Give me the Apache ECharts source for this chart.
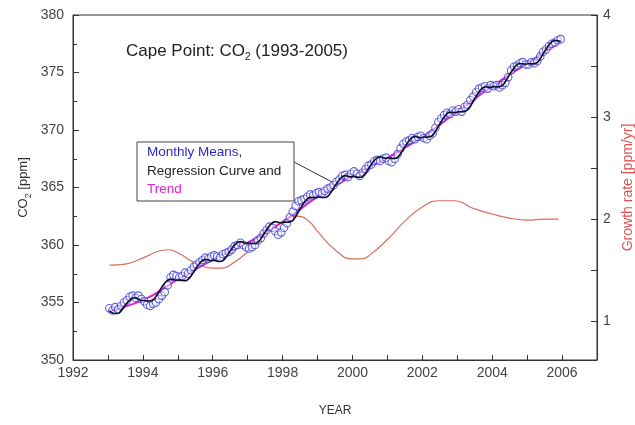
<!DOCTYPE html>
<html>
<head>
<meta charset="utf-8">
<script src="https://cdn.jsdelivr.net/npm/echarts@6/dist/echarts.min.js"></script>
<style>
html,body{margin:0;padding:0;background:#fff;}
#chart{width:635px;height:425px;}
</style>
</head>
<body>
<div id="chart"></div>
<script>
// ---- Data ----
const startYear = 1993;
const monthlyMeans = [
354.5,354.3,354.6,354.4,354.7,355.0,355.2,355.5,355.6,355.4,355.6,355.3,
355.1,354.8,354.7,354.9,355.0,355.3,355.6,355.9,356.5,357.2,357.4,357.3,
357.2,357.3,357.6,357.5,357.8,358.1,358.3,358.5,358.7,358.9,358.8,359.0,
359.1,359.0,358.9,359.2,359.3,359.4,359.6,359.9,360.0,360.2,360.0,359.8,
359.7,359.8,360.0,360.4,360.6,361.0,361.3,361.6,361.5,361.2,360.9,361.1,
361.5,361.9,362.4,362.9,363.4,363.8,363.9,364.0,364.2,364.4,364.3,364.5,
364.6,364.5,364.7,364.9,365.0,365.2,365.5,365.7,366.0,366.1,365.9,366.2,
366.4,366.2,366.0,366.3,366.6,366.9,367.0,367.3,367.4,367.3,367.5,367.6,
367.3,367.2,367.5,367.9,368.4,368.8,369.0,369.1,369.3,369.2,369.4,369.5,
369.3,369.2,369.5,369.7,370.2,370.7,371.0,371.3,371.5,371.4,371.7,371.6,
371.8,371.6,372.0,372.2,372.6,372.9,373.3,373.6,373.7,373.8,373.6,373.9,
373.8,373.9,373.7,373.9,374.1,374.6,375.2,375.5,375.6,375.8,375.9,375.7,
375.7,375.9,375.8,376.0,376.4,376.8,377.0,377.3,377.5,377.6,377.8,377.9
];
const regressionCurve = [
354.24,354.11,354.04,354.06,354.29,354.61,354.94,355.21,355.39,355.41,355.29,355.16,
355.18,355.13,355.13,355.23,355.53,355.93,356.33,356.68,356.93,357.03,356.98,356.93,
356.97,356.91,356.90,357.00,357.29,357.68,358.07,358.41,358.65,358.75,358.69,358.63,
358.66,358.59,358.56,358.64,358.91,359.29,359.66,359.99,360.21,360.29,360.21,360.14,
360.18,360.13,360.13,360.23,360.53,360.93,361.33,361.68,361.93,362.03,361.98,361.93,
361.99,361.98,362.01,362.14,362.48,362.91,363.34,363.73,364.01,364.14,364.13,364.11,
364.18,364.13,364.13,364.23,364.53,364.93,365.33,365.68,365.93,366.03,365.98,365.93,
365.97,365.90,365.88,365.97,366.25,366.63,367.02,367.35,367.58,367.67,367.60,367.53,
367.58,367.53,367.53,367.63,367.93,368.33,368.73,369.08,369.33,369.43,369.38,369.33,
369.39,369.38,369.41,369.54,369.88,370.31,370.74,371.13,371.41,371.54,371.53,371.51,
371.59,371.58,371.61,371.74,372.08,372.51,372.94,373.33,373.61,373.74,373.73,373.71,
373.78,373.75,373.77,373.88,374.20,374.62,375.03,375.40,375.67,375.78,375.75,375.72,
375.78,375.75,375.77,375.88,376.20,376.62,377.03,377.40,377.67,377.78,377.75,377.72
];
const trendYears  = [1993.0,1994.0,1995.0,1996.0,1997.0,1998.0,1999.0,2000.0,2001.0,2002.0,2003.0,2004.0,2005.0,2005.96];
const trendValues = [354.3,355.2,357.0,358.7,360.2,362.0,364.2,366.0,367.6,369.4,371.6,373.8,375.8,377.7];
const growthYears  = [1993.05,1993.5,1994.0,1994.5,1994.75,1995.0,1995.5,1996.0,1996.25,1996.5,1997.0,1997.5,1998.0,1998.4,1998.75,1999.0,1999.5,2000.0,2000.25,2000.5,2001.0,2001.5,2002.0,2002.5,2002.9,2003.5,2004.0,2004.5,2005.0,2005.5,2005.9];
const growthValues = [1.55,1.56,1.62,1.69,1.70,1.67,1.57,1.52,1.52,1.55,1.68,1.85,1.98,2.03,1.98,1.88,1.70,1.61,1.61,1.65,1.80,1.98,2.12,2.18,2.18,2.10,2.05,2.01,1.99,2.00,2.00];
const leftTicks = [350,355,360,365,370,375,380];
const rightTicks = [1,2,3,4];
const rightMinorTicks = [1,1.5,2,2.5,3,3.5,4];

// ---- Build series data ----
const monthX = i => startYear + (i + 0.5) / 12;
const meansData = monthlyMeans.map((v,i)=>[monthX(i), v]);
const regData = regressionCurve.map((v,i)=>[monthX(i), v]);
const trendData = trendYears.map((y,i)=>[y, trendValues[i]]);
const growthData = growthYears.map((y,i)=>[y, growthValues[i]]);

const FONT = '"Liberation Sans", Arial, sans-serif';
const chart = echarts.init(document.getElementById('chart'), null, {renderer:'canvas'});
chart.setOption({
  animation:false,
  backgroundColor:'#fff',
  grid:{left:73, right:38, top:15, bottom:65, show:true, borderColor:'#333', borderWidth:1,
        containLabel:false, outerBoundsMode:'none'},
  xAxis:{
    type:'value', min:1992, max:2007, interval:1,
    name:'YEAR', nameLocation:'middle', nameGap:45, nameMoveOverlap:false,
    nameTextStyle:{fontFamily:FONT, fontSize:12, color:'#333'},
    axisLine:{lineStyle:{color:'#333'}},
    axisTick:{inside:true, length:5, lineStyle:{color:'#333'}},
    splitLine:{show:false},
    axisLabel:{fontFamily:FONT, fontSize:14, color:'#444', margin:6,
      formatter:v=> (v%2===0 ? String(v) : '')}
  },
  yAxis:[{
    type:'value', min:350, max:380, interval:5, position:'left',
    name:'{a|CO}{s|2}{a| [ppm]}', nameLocation:'middle', nameGap:40, nameMoveOverlap:false,
    nameTextStyle:{fontFamily:FONT, color:'#333', rich:{
      a:{fontFamily:FONT, fontSize:13, color:'#333', lineHeight:20},
      s:{fontFamily:FONT, fontSize:9, color:'#333', verticalAlign:'bottom'}}},
    axisLine:{show:true, lineStyle:{color:'#333'}},
    axisTick:{inside:true, length:6, lineStyle:{color:'#333'}},
    minorTick:{show:true, splitNumber:2, length:4, lineStyle:{color:'#333'}},
    splitLine:{show:false},
    axisLabel:{fontFamily:FONT, fontSize:14, color:'#444', margin:9}
  },{
    type:'value', min:0.62, max:4, position:'right', alignTicks:false,
    name:'Growth rate [ppm/yr]', nameLocation:'middle', nameGap:24, nameMoveOverlap:false,
    nameTextStyle:{fontFamily:FONT, fontSize:14, color:'#e05050'},
    axisLine:{show:true, lineStyle:{color:'#333'}},
    axisTick:{inside:true, length:6, customValues:rightMinorTicks, lineStyle:{color:'#333'}},
    splitLine:{show:false},
    axisLabel:{fontFamily:FONT, fontSize:14, color:'#444', margin:6, customValues:rightTicks}
  }],
  series:[
    {type:'line', name:'Growth rate', yAxisIndex:1, data:growthData, smooth:true,
      showSymbol:false, lineStyle:{color:'#d4705f', width:1.2}, z:1},
    {type:'line', name:'Trend', data:trendData, smooth:true, showSymbol:false,
      lineStyle:{color:'#e022c8', width:2}, z:2},
    {type:'scatter', name:'Monthly Means', data:meansData, symbol:'circle', symbolSize:7.5,
      itemStyle:{color:'rgba(255,255,255,0.6)', borderColor:'#3b3bd0', borderWidth:1.1}, z:3},
    {type:'line', name:'Regression', data:regData, smooth:true, showSymbol:false,
      lineStyle:{color:'#0c0c2a', width:1.6}, z:4}
  ],
  graphic:[
    {type:'text', left:126, top:43, z:10, style:{
      text:'{a|Cape Point: CO}{s|2}{a| (1993-2005)}', fill:'#222',
      rich:{a:{fontFamily:FONT, fontSize:17, fill:'#222', lineHeight:22},
            s:{fontFamily:FONT, fontSize:10, fill:'#222', verticalAlign:'bottom'}}}},
    {type:'rect', z:10, shape:{x:137, y:142, width:157, height:59},
      style:{fill:'#fff', stroke:'#444', lineWidth:1}},
    {type:'line', z:10, shape:{x1:294, y1:162, x2:332, y2:182},
      style:{stroke:'#333', lineWidth:1}},
    {type:'text', z:11, left:147, top:145, style:{
      text:'{b|Monthly Means}{k|,}', rich:{
        b:{fontFamily:FONT, fontSize:13.5, fill:'#2a2ac8'},
        k:{fontFamily:FONT, fontSize:13.5, fill:'#222'}}}},
    {type:'text', z:11, left:147, top:164, style:{
      text:'Regression Curve and', font:'13.5px "Liberation Sans", Arial, sans-serif', fill:'#222'}},
    {type:'text', z:11, left:147, top:182, style:{
      text:'Trend', font:'13.5px "Liberation Sans", Arial, sans-serif', fill:'#e020d0'}}
  ]
});
</script>
</body>
</html>
